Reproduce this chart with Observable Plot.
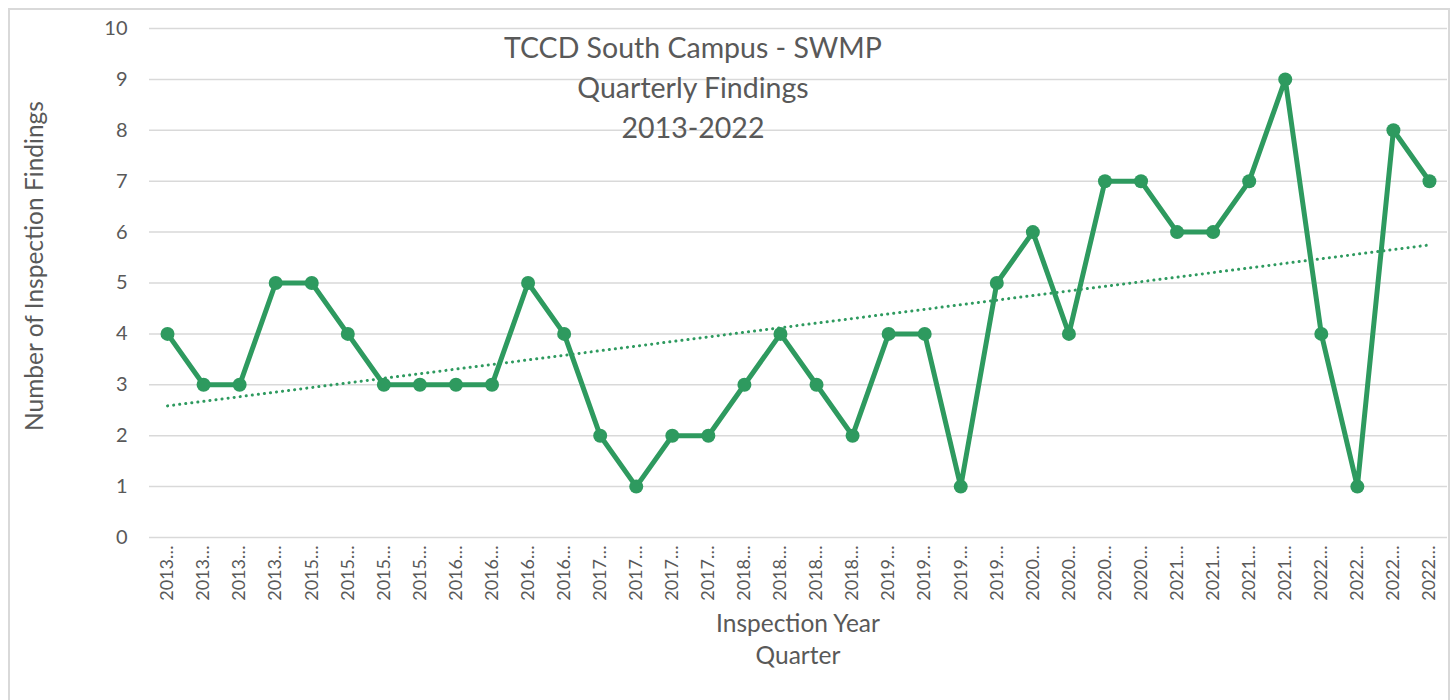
<!DOCTYPE html>
<html>
<head>
<meta charset="utf-8">
<script src="https://cdn.jsdelivr.net/npm/d3@7"></script>
<script src="https://cdn.jsdelivr.net/npm/@observablehq/plot@0.6"></script>
<style>
  html, body { margin: 0; padding: 0; background: #fff; }
  #wrap { position: relative; width: 1454px; height: 700px; overflow: hidden; font-family: Lato, "Open Sans", sans-serif; }
  #border { position: absolute; left: 8px; top: 8px; width: 1438px; height: 720px; border: 2px solid #d9d9d9; pointer-events: none; }
  #title { position: absolute; left: 443px; width: 500px; top: 27px; text-align: center; font-size: 28.5px; line-height: 40px; color: #595959; }
  #ylab { position: absolute; left: 33px; top: 266px; transform: translate(-50%, -50%) rotate(-90deg); white-space: nowrap; font-size: 24.5px; color: #595959; }
  #xlab { position: absolute; left: 548px; width: 500px; top: 607px; text-align: center; font-size: 24.5px; line-height: 32px; color: #595959; }
</style>
</head>
<body>
<div id="wrap">
  <div id="chart"></div>
  <div id="title">TCCD South Campus - SWMP<br>Quarterly Findings<br>2013-2022</div>
  <div id="ylab">Number of Inspection Findings</div>
  <div id="xlab">Inspection Year<br>Quarter</div>
  <div id="border"></div>
</div>
<script>
const years = ["2013","2013","2013","2013","2015","2015","2015","2015","2016","2016","2016","2016",
  "2017","2017","2017","2017","2018","2018","2018","2018","2019","2019","2019","2019",
  "2020","2020","2020","2020","2021","2021","2021","2021","2022","2022","2022","2022"];
const findings = [4,3,3,5,5,4,3,3,3,3,5,4,2,1,2,2,3,4,3,2,4,4,1,5,6,4,7,7,6,6,7,9,4,1,8,7];
const yTicks = [0,1,2,3,4,5,6,7,8,9,10];

const data = findings.map((v, i) => ({i, v, label: years[i] + "\u2026"}));
const green = "#2e9a5f";

const chart = Plot.plot({
  width: 1454,
  height: 700,
  marginLeft: 149,
  marginRight: 7,
  marginTop: 28,
  marginBottom: 163,
  style: {fontFamily: "Lato, 'Open Sans', sans-serif", fontSize: "18px", color: "#595959", background: "transparent"},
  x: {domain: [-0.5, 35.5], ticks: d3.range(36), tickFormat: i => data[i].label, tickRotate: -90, tickSize: 0, tickPadding: 8, label: null},
  y: {domain: [0, 10], ticks: yTicks, tickSize: 0, tickPadding: 22, label: null},
  marks: [
    Plot.gridY(yTicks, {stroke: "#d9d9d9", strokeOpacity: 1, strokeWidth: 1.5}),
    Plot.axisY({ticks: yTicks, tickSize: 0, tickPadding: 22, fontSize: 20, label: null}),
    Plot.linearRegressionY(data, {x: "i", y: "v", stroke: green, strokeWidth: 3, strokeDasharray: "0.1,6", strokeLinecap: "round", ci: 0}),
    Plot.line(data, {x: "i", y: "v", stroke: green, strokeWidth: 5}),
    Plot.dot(data, {x: "i", y: "v", r: 7, fill: green, stroke: "none"})
  ]
});
document.getElementById("chart").appendChild(chart);
</script>
</body>
</html>
